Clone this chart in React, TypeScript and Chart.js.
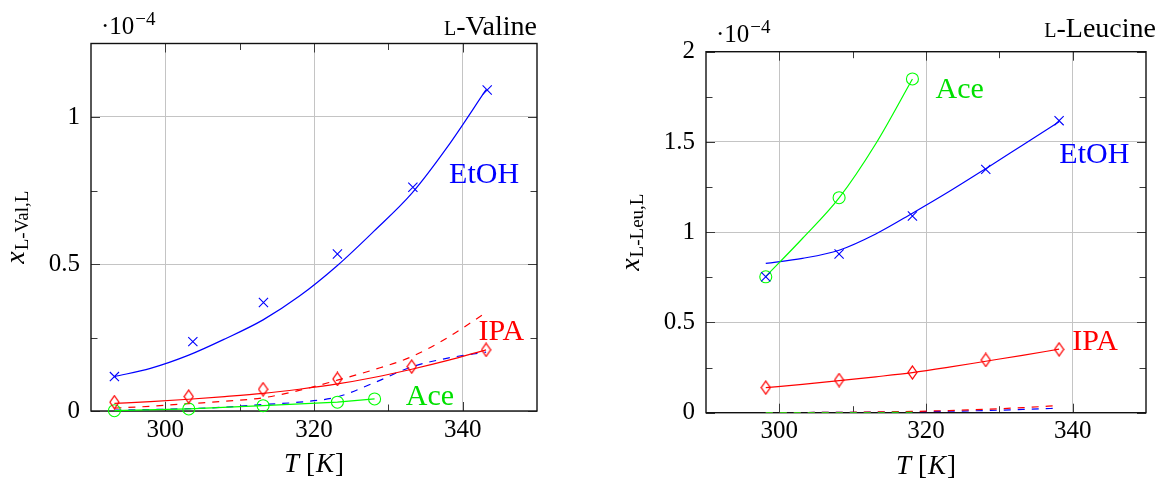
import React, { useEffect, useRef } from 'react';
import { Chart, registerables } from 'chart.js';
Chart.register(...registerables);

// ---------- L-Valine (mole fraction, in units of 1e-4) ----------
const valEtohT = [293.15, 303.7, 313.2, 323.15, 333.3, 343.3];
const valEtohExp = [0.117, 0.236, 0.369, 0.534, 0.761, 1.092];
const valIpaT = [293.15, 303.15, 313.15, 323.15, 333.15, 343.15];
const valIpaExp = [0.03, 0.049, 0.074, 0.109, 0.151, 0.208];
const valAceT = [293.15, 303.15, 313.15, 323.15, 328.15];
const valAceExp = [0.001, 0.007, 0.018, 0.03, 0.041];
const valFitT = [293.15, 298, 303.15, 308, 313.15, 318, 323.15, 328, 333.15, 338, 343.15];
const valEtohFit = [0.117, 0.145, 0.19, 0.245, 0.31, 0.39, 0.495, 0.61, 0.74, 0.9, 1.093];
const valIpaFit = [0.026, 0.032, 0.04, 0.049, 0.06, 0.074, 0.092, 0.114, 0.142, 0.172, 0.208];
const valIpaModel = [0.01, 0.016, 0.025, 0.033, 0.045, 0.07, 0.105, 0.14, 0.185, 0.25, 0.335];
const valEtohModel = [0.003, 0.005, 0.008, 0.013, 0.022, 0.03, 0.048, 0.095, 0.15, 0.18, 0.2];

// ---------- L-Leucine (mole fraction, in units of 1e-4) ----------
const leuT = [298.15, 308.15, 318.15, 328.15, 338.15];
const leuEtohExp = [0.753, 0.879, 1.09, 1.348, 1.618];
const leuIpaExp = [0.139, 0.181, 0.223, 0.292, 0.351];
const leuAceT = [298.15, 308.15, 318.15];
const leuAceExp = [0.753, 1.191, 1.849];
const leuFitT = [298.15, 303.15, 308.15, 313.15, 318.15, 323.15, 328.15, 333.15, 338.15];
const leuEtohFit = [0.827, 0.855, 0.9, 0.99, 1.105, 1.225, 1.352, 1.482, 1.612];
const leuIpaFit = [0.139, 0.157, 0.178, 0.199, 0.222, 0.252, 0.285, 0.318, 0.352];
const leuEtohModel = [0.0, 0.001, 0.002, 0.003, 0.005, 0.008, 0.012, 0.018, 0.025];
const leuIpaModel = [0.0, 0.001, 0.002, 0.004, 0.007, 0.012, 0.019, 0.028, 0.04];
const leuAceFitT = [298.15, 303.15, 308.15, 313.15, 318.15];
const leuAceFit = [0.755, 0.965, 1.19, 1.49, 1.849];
const leuAceModel = [0.0, 0.0, 0.001, 0.001, 0.002];

// ---------- ticks ----------
const xMajor = [300, 320, 340];
const xMinor = [310, 330];
const valYMajor = [0, 0.5, 1];
const valYMinor = [0.25, 0.75];
const leuYMajor = [0, 0.5, 1, 1.5, 2];
const leuYMinor = [0.25, 0.75, 1.25, 1.75];

// ---------- series labels (data coordinates, baseline) ----------
const valLabels = [
  { text: 'EtOH', x: 338.17, y: 0.777, color: '#0000ff' },
  { text: 'IPA', x: 342.13, y: 0.242, color: '#ff0000' },
  { text: 'Ace', x: 332.35, y: 0.02, color: '#00e000' },
];
const leuLabels = [
  { text: 'Ace', x: 321.31, y: 1.742, color: '#00e000' },
  { text: 'EtOH', x: 338.18, y: 1.383, color: '#0000ff' },
  { text: 'IPA', x: 339.94, y: 0.347, color: '#ff0000' },
];

const BLUE = '#0000ff';
const RED = '#ff0000';
const GREEN = '#00ff00';
const FAM = '"Liberation Serif", "Times New Roman", serif';

const pts = (xs: number[], ys: number[]) => xs.map((x, i) => ({ x, y: ys[i] }));

function makeDiamond(color: string) {
  const c = document.createElement('canvas');
  c.width = 11;
  c.height = 15;
  const g = c.getContext('2d')!;
  g.strokeStyle = color;
  g.lineWidth = 1.3;
  g.beginPath();
  g.moveTo(5.5, 1);
  g.lineTo(10, 7.5);
  g.lineTo(5.5, 14);
  g.lineTo(1, 7.5);
  g.closePath();
  g.stroke();
  return c;
}

const markerSet = (xs: number[], ys: number[], color: string, style: any, radius: number, line = false) => ({
  data: pts(xs, ys),
  borderColor: color,
  backgroundColor: 'rgba(0,0,0,0)',
  pointStyle: style,
  pointRadius: radius,
  pointHoverRadius: radius,
  pointBorderWidth: 1.1,
  pointBorderColor: color,
  pointBackgroundColor: 'rgba(0,0,0,0)',
  showLine: line,
  borderWidth: 1.2,
  tension: 0,
  clip: false as any,
});

const fitSet = (xs: number[], ys: number[], color: string, dash: number[] = []) => ({
  data: pts(xs, ys),
  borderColor: color,
  backgroundColor: color,
  borderWidth: 1.2,
  pointRadius: 0,
  pointHoverRadius: 0,
  showLine: true,
  cubicInterpolationMode: 'monotone',
  borderDash: dash,
  fill: false,
});

type Seg = { text: string; font: string; dy?: number; gap?: number };

function drawSegs(ctx: CanvasRenderingContext2D, segs: Seg[], x: number, y: number, align: 'left' | 'right' | 'center') {
  let w = 0;
  for (const s of segs) {
    ctx.font = s.font;
    w += ctx.measureText(s.text).width + (s.gap || 0);
  }
  let cx = align === 'left' ? x : align === 'right' ? x - w : x - w / 2;
  ctx.textAlign = 'left';
  ctx.textBaseline = 'alphabetic';
  for (const s of segs) {
    ctx.font = s.font;
    cx += s.gap || 0;
    ctx.fillText(s.text, cx, y + (s.dy || 0));
    cx += ctx.measureText(s.text).width;
  }
}

type Spec = {
  left: number;
  w: number;
  yW: number;
  padR: number;
  padT: number;
  xH: number;
  yMax: number;
  yMajor: number[];
  yMinor: number[];
  datasets: any[];
  labels: { text: string; x: number; y: number; color: string }[];
  titleRest: string;
  titleDx: number;
  titleDy: number;
  ySub: string;
};

function buildConfig(spec: Spec): any {
  const decor = {
    id: 'decor',
    beforeDatasetsDraw(chart: any) {
      const { ctx, chartArea: a, scales } = chart;
      const xs = scales.x;
      const ys = scales.y;
      ctx.save();
      ctx.strokeStyle = '#3a3a3a';
      ctx.lineWidth = 1;
      ctx.beginPath();
      for (const v of [...xMajor, ...xMinor]) {
        const px = Math.round(xs.getPixelForValue(v)) + 0.5;
        const len = xMajor.includes(v) ? 9 : 6.5;
        ctx.moveTo(px, a.bottom);
        ctx.lineTo(px, a.bottom - len);
        ctx.moveTo(px, a.top);
        ctx.lineTo(px, a.top + len);
      }
      for (const v of [...spec.yMajor, ...spec.yMinor]) {
        const py = Math.round(ys.getPixelForValue(v)) + 0.5;
        const len = spec.yMajor.includes(v) ? 9 : 6.5;
        ctx.moveTo(a.left, py);
        ctx.lineTo(a.left + len, py);
        ctx.moveTo(a.right, py);
        ctx.lineTo(a.right - len, py);
      }
      ctx.stroke();
      ctx.strokeStyle = '#111';
      ctx.lineWidth = 1.4;
      ctx.strokeRect(a.left, a.top, a.right - a.left, a.bottom - a.top);
      ctx.restore();
    },
    afterDraw(chart: any) {
      const { ctx, chartArea: a, scales } = chart;
      ctx.save();
      ctx.fillStyle = '#000';
      // exponent
      drawSegs(
        ctx,
        [
          { text: '·10', font: `25px ${FAM}` },
          { text: '−4', font: `19px ${FAM}`, dy: -9, gap: 1 },
        ],
        a.left + 10,
        a.top - 10,
        'left'
      );
      // title with small-cap L
      drawSegs(
        ctx,
        [
          { text: 'L', font: `20px ${FAM}` },
          { text: spec.titleRest, font: `28px ${FAM}` },
        ],
        a.right + spec.titleDx,
        a.top - spec.titleDy,
        'right'
      );
      // x title
      drawSegs(
        ctx,
        [
          { text: 'T', font: `italic 27px ${FAM}` },
          { text: '[', font: `27px ${FAM}`, gap: 7 },
          { text: 'K', font: `italic 27px ${FAM}`, gap: 1 },
          { text: ']', font: `27px ${FAM}`, gap: 1 },
        ],
        (a.left + a.right) / 2,
        a.bottom + 61,
        'center'
      );
      // y title (rotated)
      ctx.save();
      ctx.translate(a.left - 67, (a.top + a.bottom) / 2);
      ctx.rotate(-Math.PI / 2);
      drawSegs(
        ctx,
        [
          { text: 'x', font: `italic 28px ${FAM}` },
          { text: spec.ySub, font: `19px ${FAM}`, dy: 4, gap: 1 },
        ],
        0,
        0,
        'center'
      );
      ctx.restore();
      // series labels
      for (const l of spec.labels) {
        ctx.fillStyle = l.color;
        drawSegs(ctx, [{ text: l.text, font: `30px ${FAM}` }], scales.x.getPixelForValue(l.x), scales.y.getPixelForValue(l.y), 'left');
      }
      ctx.restore();
    },
  };

  const xTicks = [...xMajor, ...xMinor].sort((p, q) => p - q);
  const yTicks = [...spec.yMajor, ...spec.yMinor].sort((p, q) => p - q);

  return {
    type: 'line',
    data: { datasets: spec.datasets },
    plugins: [decor],
    options: {
      responsive: false,
      animation: false,
      parsing: true,
      layout: { padding: { left: 0, right: spec.padR, top: spec.padT, bottom: 0 } },
      plugins: { legend: { display: false }, tooltip: { enabled: false }, title: { display: false } },
      scales: {
        x: {
          type: 'linear',
          min: 290,
          max: 350,
          afterBuildTicks: (s: any) => {
            s.ticks = xTicks.map((v) => ({ value: v }));
          },
          afterFit: (s: any) => {
            s.height = spec.xH;
          },
          ticks: {
            callback: (v: number) => (xMajor.includes(v) ? String(v) : ''),
            font: { family: FAM, size: 25 },
            color: '#000',
            padding: 4,
            maxRotation: 0,
            autoSkip: false,
          },
          grid: {
            color: (c: any) => (c.tick && xMajor.includes(c.tick.value) ? '#c4c4c4' : 'rgba(0,0,0,0)'),
            lineWidth: 1,
            drawTicks: false,
          },
          border: { display: false },
        },
        y: {
          type: 'linear',
          min: 0,
          max: spec.yMax,
          afterBuildTicks: (s: any) => {
            s.ticks = yTicks.map((v) => ({ value: v }));
          },
          afterFit: (s: any) => {
            s.width = spec.yW;
          },
          ticks: {
            callback: (v: number) => (spec.yMajor.includes(v) ? String(v) : ''),
            font: { family: FAM, size: 25 },
            color: '#000',
            padding: 11,
            autoSkip: false,
          },
          grid: {
            color: (c: any) => (c.tick && spec.yMajor.includes(c.tick.value) ? '#c4c4c4' : 'rgba(0,0,0,0)'),
            lineWidth: 1,
            drawTicks: false,
          },
          border: { display: false },
        },
      },
    },
  };
}

function ChartBox({ make }: { make: () => Spec }) {
  const ref = useRef<HTMLCanvasElement>(null);
  const specRef = useRef<Spec | null>(null);
  if (!specRef.current) specRef.current = make();
  const spec = specRef.current;
  useEffect(() => {
    const chart = new Chart(ref.current!, buildConfig(spec));
    return () => chart.destroy();
  }, []);
  return (
    <canvas
      ref={ref}
      width={spec.w}
      height={482}
      style={{ position: 'absolute', left: spec.left, top: 0, width: spec.w, height: 482 }}
    />
  );
}

const makeVal = (): Spec => ({
  left: 0,
  w: 580,
  yW: 91,
  padR: 43,
  padT: 43.5,
  xH: 71,
  yMax: 1.25,
  yMajor: valYMajor,
  yMinor: valYMinor,
  titleRest: '-Valine',
  titleDx: 0,
  titleDy: 8.5,
  ySub: 'L-Val,L',
  labels: valLabels,
  datasets: [
    markerSet(valEtohT, valEtohExp, BLUE, 'crossRot', 6.5),
    markerSet(valIpaT, valIpaExp, RED, makeDiamond(RED), 6),
    markerSet(valAceT, valAceExp, GREEN, 'circle', 6, true),
    fitSet(valFitT, valEtohFit, BLUE),
    fitSet(valFitT, valIpaFit, RED),
    fitSet(valFitT, valIpaModel, RED, [7, 7]),
    fitSet(valFitT, valEtohModel, BLUE, [7, 7]),
  ],
});

const makeLeu = (): Spec => ({
  left: 580,
  w: 577,
  yW: 126,
  padR: 11,
  padT: 51.7,
  xH: 69.3,
  yMax: 2,
  yMajor: leuYMajor,
  yMinor: leuYMinor,
  titleRest: '-Leucine',
  titleDx: 10,
  titleDy: 15,
  ySub: 'L-Leu,L',
  labels: leuLabels,
  datasets: [
    markerSet(leuT, leuEtohExp, BLUE, 'crossRot', 6.5),
    markerSet(leuT, leuIpaExp, RED, makeDiamond(RED), 6),
    markerSet(leuAceT, leuAceExp, GREEN, 'circle', 6),
    fitSet(leuAceFitT, leuAceFit, GREEN),
    fitSet(leuFitT, leuEtohFit, BLUE),
    fitSet(leuFitT, leuIpaFit, RED),
    fitSet(leuAceFitT, leuAceModel, GREEN, [7, 7]),
    fitSet(leuFitT, leuIpaModel, RED, [7, 7]),
    fitSet(leuFitT, leuEtohModel, BLUE, [7, 7]),
  ],
});

export default function App() {
  return (
    <div style={{ position: 'absolute', left: 0, top: 0, width: 1157, height: 482, background: '#fff', overflow: 'hidden' }}>
      <ChartBox make={makeVal} />
      <ChartBox make={makeLeu} />
    </div>
  );
}
